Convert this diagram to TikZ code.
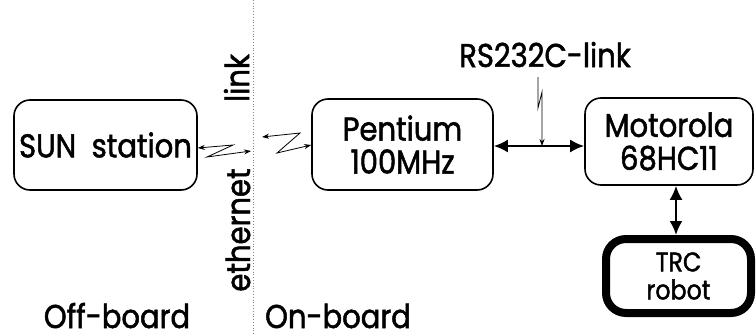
\documentclass[tikz,border=0pt]{standalone}
\usepackage{fontspec}
\setmainfont{Poppins}[FakeStretch=0.88,FakeBold=1.5]
\usetikzlibrary{arrows.meta}
\begin{document}
\begin{tikzpicture}[x=1pt,y=-1pt,
  box/.style={draw,line width=1.6pt,rounded corners=16pt,align=center,inner sep=0pt,font=\fontsize{33}{33}\selectfont},
  lbl/.style={font=\fontsize{33}{33}\selectfont,inner sep=0pt,anchor=base},
  thin/.style={line width=0.8pt,{Stealth[length=7pt,width=5pt]}-{Stealth[length=7pt,width=5pt]}},
  thick/.style={line width=2.2pt,{Latex[length=14pt,width=13pt]}-{Latex[length=14pt,width=13pt]}}]
\useasboundingbox (0,0) rectangle (756,335);
\fill[white] (0,0) rectangle (756,335);
\draw[gray,dotted,line width=0.8pt] (253,0) -- (253,335);
\node[box,minimum width=183pt,minimum height=90pt] (sun) at (105.5,145) {SUN\ \ station};
\node[box,minimum width=181pt,minimum height=91pt] (pent) at (402.5,144.5) {Pentium\\100MHz};
\node[box,minimum width=168pt,minimum height=87pt] (moto) at (669,141.5) {Motorola\\68HC11};
\node[box,line width=8pt,rounded corners=20pt,minimum width=145pt,minimum height=74pt,font=\fontsize{27}{28}\selectfont] (trc) at (678.5,276) {TRC\\robot};
\node[lbl,rotate=90] (link) at (249,78) {link};
\node[lbl,rotate=90] (eth) at (250,230) {ethernet};
\node[lbl] (rs) at (545,67) {RS232C-link};
\node[lbl] (off) at (117,328) {Off-board};
\node[lbl] (on) at (338,328) {On-board};
\coordinate (z1) at (251,151);
\coordinate (z2) at (262,137);
\coordinate (rstop) at (538,77);
\draw[thin] (sun.east |- 0,148) -- (233,145) -- (207,157) -- (z1);
\draw[thin] (z2) -- (300,133) -- (277,153) -- (pent.west |- 0,145);
\draw[thick] (pent.east |- 0,146) -- (moto.west |- 0,146);
\draw[thick] (moto.south -| 676,0) -- (trc.north -| 676,0);
\draw[line width=0.8pt,-{Stealth[length=7pt,width=5pt]}] (rstop) -- (538,108) -- (542,92) -- (542,146);
\end{tikzpicture}
\end{document}
